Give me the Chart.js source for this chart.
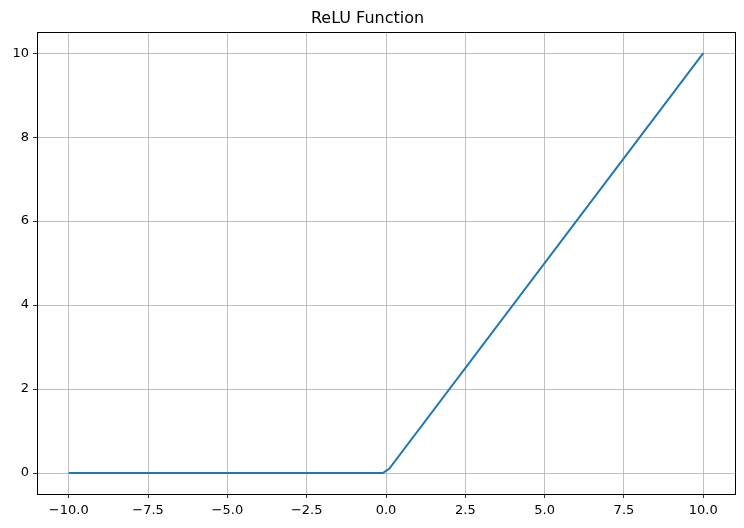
<!DOCTYPE html>
<html>
<head>
<meta charset="utf-8">
<script src="https://cdn.jsdelivr.net/npm/chart.js@4/dist/chart.umd.min.js"></script>
<style>
  body { margin: 0; background: #fff; }
  canvas { display: block; }
</style>
</head>
<body>
<canvas id="reluChart" width="744" height="528"></canvas>
<script>
// vertices of the plotted ReLU curve
const xValues = [-10, -0.101, 0.101, 10];
const yValues = [0, 0, 0.101, 10];
const xTicks = [-10, -7.5, -5, -2.5, 0, 2.5, 5, 7.5, 10];
const yTicks = [0, 2, 4, 6, 8, 10];

const fontFamily = "'DejaVu Sans', sans-serif";

function minusLabel(v, digits) {
    return v.toFixed(digits).replace('-', '\u2212');
}

// top and right spines
const frame = {
    id: 'frame',
    afterDraw(chart) {
        const { ctx, chartArea: a } = chart;
        ctx.save();
        ctx.strokeStyle = '#000';
        ctx.lineWidth = 1;
        ctx.strokeRect(Math.round(a.left) + 0.5, Math.round(a.top) + 0.5,
            Math.round(a.right - a.left), Math.round(a.bottom - a.top));
        ctx.restore();
    }
};

const ctx = document.getElementById('reluChart').getContext('2d');
new Chart(ctx, {
    type: 'scatter',
    data: {
        datasets: [{
            data: xValues.map((x, i) => ({ x: x, y: yValues[i] })),
            showLine: true,
            borderColor: '#1f77b4',
            borderWidth: 2,
            pointRadius: 0,
            tension: 0
        }]
    },
    options: {
        responsive: false,
        animation: false,
        layout: { padding: { left: 0, right: 9, top: 0, bottom: 0 } },
        plugins: {
            legend: { display: false },
            tooltip: { enabled: false },
            title: {
                display: true,
                text: 'ReLU Function',
                color: '#000',
                font: { family: fontFamily, size: 16, weight: 'normal', lineHeight: 1.2 },
                padding: { top: 9, bottom: 4 }
            }
        },
        scales: {
            x: {
                type: 'linear',
                min: -11,
                max: 11,
                afterBuildTicks: axis => { axis.ticks = xTicks.map(v => ({ value: v })); },
                afterFit: axis => { axis.height = 34; },
                ticks: {
                    color: '#000',
                    font: { family: fontFamily, size: 13 },
                    padding: 5,
                    maxRotation: 0,
                    callback: v => minusLabel(v, 1)
                },
                grid: { color: '#b0b0b0', lineWidth: 0.8, tickColor: '#000', tickLength: 4 },
                border: { color: '#000', width: 1 }
            },
            y: {
                type: 'linear',
                min: -0.5,
                max: 10.5,
                afterBuildTicks: axis => { axis.ticks = yTicks.map(v => ({ value: v })); },
                afterFit: axis => { axis.width = 37; },
                ticks: {
                    color: '#000',
                    font: { family: fontFamily, size: 13 },
                    padding: 4,
                    callback: v => minusLabel(v, 0)
                },
                grid: { color: '#b0b0b0', lineWidth: 0.8, tickColor: '#000', tickLength: 4 },
                border: { color: '#000', width: 1 }
            }
        }
    },
    plugins: [frame]
});
</script>
</body>
</html>
